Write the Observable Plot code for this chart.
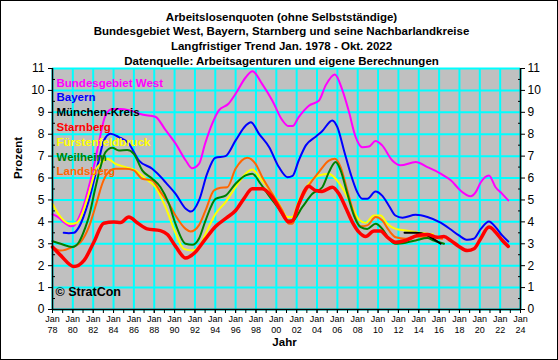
<!DOCTYPE html>
<html><head><meta charset="utf-8">
<script src="https://cdn.jsdelivr.net/npm/d3@7"></script>
<script src="https://cdn.jsdelivr.net/npm/@observablehq/plot@0.6"></script>
<style>
body{margin:0;background:#fff;}
#chart svg{display:block;outline:1px solid #000;outline-offset:-1px;}
</style></head><body><div id="chart"></div>
<script>
const titleLines = [
  "Arbeitslosenquoten (ohne Selbstständige)",
  "Bundesgebiet West, Bayern, Starnberg und seine Nachbarlandkreise",
  "Langfristiger Trend Jan. 1978 - Okt. 2022",
  "Datenquelle: Arbeitsagenturen und eigene Berechnungen"
];
const seriesNames = ["Bundesgebiet West","Bayern","München-Kreis","Starnberg","Fürstenfeldbruck","Weilheim","Landsberg"];
const seriesColors = ["#ff00ff","#0000ff","#000000","#ff0000","#ffff00","#008000","#ff6600"];

const west = [[1978.0,4.35],[1978.6,4.2],[1979.2,3.95],[1979.8,3.8],[1980.1,3.82],[1980.6,4.2],[1981.1,4.8],[1981.57,5.6],[1982.1,6.6],[1982.55,7.6],[1983.2,8.85],[1983.87,9.15],[1984.7,9.15],[1985.5,9.1],[1986.8,8.9],[1988.1,8.8],[1989.1,8.2],[1990.1,7.57],[1991.1,6.8],[1991.7,6.45],[1992.4,6.65],[1993.0,7.57],[1993.7,8.48],[1994.35,9.09],[1995.3,9.39],[1996.0,9.85],[1997.0,10.6],[1997.65,10.88],[1998.6,10.3],[1999.6,9.54],[2000.6,8.63],[2001.2,8.37],[2001.6,8.37],[2002.2,8.78],[2003.2,9.3],[2004.2,9.54],[2004.85,10.23],[2005.75,10.73],[2006.5,10.0],[2007.1,9.09],[2007.8,7.87],[2008.45,7.41],[2009.1,7.44],[2009.75,7.69],[2010.4,7.49],[2011.4,6.8],[2012.2,6.58],[2013.7,6.73],[2014.85,6.5],[2016.15,6.2],[2017.15,5.9],[2018.1,5.43],[2019.1,5.17],[2019.6,5.36],[2020.1,5.81],[2020.9,6.12],[2021.55,5.58],[2022.2,5.28],[2022.8,4.98]];
const bayern = [[1979.1,3.5],[1979.6,3.48],[1980.1,3.5],[1980.6,3.76],[1981.57,4.98],[1982.55,6.8],[1983.04,7.7],[1983.7,8.02],[1984.52,7.87],[1985.5,7.57],[1986.5,6.8],[1987.8,6.42],[1988.8,5.97],[1989.1,5.81],[1990.1,5.28],[1991.1,4.6],[1991.6,4.47],[1992.4,4.98],[1993.2,6.2],[1994.0,6.93],[1995.0,7.0],[1996.0,7.72],[1997.0,8.4],[1997.5,8.55],[1998.3,8.02],[1999.3,7.41],[2000.25,6.5],[2001.1,6.04],[2001.6,6.1],[2002.2,6.8],[2002.9,7.49],[2003.9,7.9],[2004.5,8.14],[2005.5,8.63],[2006.0,8.32],[2006.65,7.26],[2007.3,6.2],[2007.95,5.36],[2008.45,5.05],[2008.95,5.05],[2009.75,5.39],[2010.4,5.2],[2011.05,4.75],[2011.7,4.29],[2012.4,4.19],[2013.7,4.32],[2014.85,4.22],[2016.15,3.96],[2017.15,3.65],[2017.95,3.38],[2018.8,3.18],[2019.4,3.23],[2020.1,3.68],[2020.9,4.02],[2021.55,3.76],[2022.2,3.38],[2022.8,3.1]];
const muenchen = [[2012.6,3.5],[2013.7,3.5],[2014.8,3.4],[2015.5,3.2],[2016.15,3.0]];
const starnberg = [[1978.0,2.85],[1978.8,2.47],[1980.1,1.96],[1981.1,2.24],[1982.06,3.07],[1983.04,3.94],[1984.03,3.99],[1984.69,3.97],[1985.5,4.22],[1986.33,3.96],[1987.3,3.68],[1988.6,3.6],[1989.3,3.42],[1990.1,2.88],[1991.08,2.35],[1992.0,2.6],[1993.0,3.2],[1994.0,3.78],[1995.1,4.18],[1996.0,4.52],[1996.8,5.05],[1997.64,5.51],[1998.62,5.51],[1999.6,5.13],[2000.6,4.37],[2001.2,4.0],[2001.6,4.05],[2002.22,4.83],[2003.2,5.62],[2003.86,5.43],[2004.5,5.39],[2005.5,5.58],[2006.15,5.28],[2006.8,4.67],[2007.47,3.99],[2008.12,3.53],[2008.78,3.33],[2009.6,3.58],[2010.25,3.58],[2010.9,3.3],[2011.73,3.07],[2012.7,3.15],[2013.86,3.38],[2014.84,3.42],[2015.83,3.3],[2016.48,3.33],[2017.14,3.15],[2017.95,2.88],[2018.78,2.69],[2019.43,2.77],[2020.08,3.23],[2020.9,3.76],[2021.56,3.53],[2022.22,3.15],[2022.8,2.88]];
const fuerstenfeldbruck = [[1978.0,4.83],[1978.8,4.22],[1979.77,3.91],[1980.26,3.94],[1980.6,4.06],[1981.57,5.28],[1982.23,6.35],[1982.89,6.73],[1983.38,6.88],[1984.19,6.65],[1985.18,6.5],[1986.16,6.35],[1987.14,5.97],[1988.13,5.58],[1989.11,4.67],[1990.09,3.5],[1990.91,2.77],[1991.74,2.69],[1992.39,2.85],[1993.04,3.45],[1994.03,4.37],[1995.01,4.9],[1995.99,5.58],[1996.98,6.2],[1997.64,6.39],[1998.45,5.97],[1999.27,5.51],[2000.25,4.83],[2001.08,4.22],[2001.57,4.22],[2002.22,4.98],[2003.2,5.74],[2004.18,6.12],[2005.17,6.2],[2005.83,5.97],[2006.64,5.43],[2007.47,4.67],[2008.12,4.1],[2008.78,3.96],[2009.59,4.29],[2010.25,4.29],[2010.91,3.91],[2011.73,3.68],[2012.71,3.61],[2013.69,3.53],[2015.0,3.45],[2015.4,3.43]];
const weilheim = [[1978.0,3.12],[1978.8,3.0],[1979.94,2.85],[1980.59,3.07],[1981.24,3.76],[1981.57,4.22],[1982.23,5.58],[1982.72,6.5],[1983.21,7.18],[1983.87,7.38],[1984.52,7.26],[1985.35,7.28],[1985.99,7.11],[1986.82,6.35],[1987.8,5.97],[1988.62,5.58],[1989.44,4.83],[1990.09,3.91],[1991.08,3.0],[1991.74,2.95],[1992.39,3.23],[1993.04,4.06],[1994.03,5.05],[1995.01,5.2],[1995.99,5.74],[1996.98,6.12],[1997.64,6.2],[1998.45,5.74],[1999.27,5.2],[2000.25,4.6],[2001.08,4.06],[2001.57,4.06],[2002.55,4.67],[2003.54,5.28],[2004.52,5.58],[2005.17,6.27],[2005.83,6.73],[2006.32,6.35],[2006.98,5.28],[2007.63,4.29],[2008.29,3.76],[2008.94,3.68],[2009.76,3.91],[2010.42,3.68],[2011.07,3.23],[2011.73,3.0],[2012.71,3.05],[2013.69,3.15],[2014.84,3.26],[2015.49,3.15],[2016.48,3.0]];
const landsberg = [[1978.0,2.85],[1978.8,2.69],[1979.94,2.85],[1980.75,3.07],[1981.57,3.76],[1982.4,4.98],[1982.89,5.74],[1983.38,6.2],[1984.19,6.42],[1985.18,6.42],[1985.99,6.35],[1986.82,5.97],[1987.8,5.89],[1988.62,5.36],[1989.44,4.83],[1990.09,4.29],[1991.08,3.68],[1991.57,3.56],[1992.39,3.84],[1993.04,4.52],[1993.86,5.43],[1994.52,5.56],[1995.18,5.58],[1995.99,6.42],[1997.14,6.93],[1997.96,6.65],[1998.62,6.04],[1999.6,5.28],[2000.59,4.52],[2001.24,3.91],[2001.57,3.91],[2002.22,4.75],[2003.2,5.66],[2004.18,6.27],[2005.17,6.8],[2005.76,6.88],[2006.32,6.5],[2006.98,5.43],[2007.63,4.37],[2008.29,3.8],[2008.94,3.84],[2009.76,4.22],[2010.42,4.06],[2011.07,3.61],[2011.73,3.3],[2012.71,3.23],[2013.69,3.33],[2015.0,3.3],[2016.3,3.23]];

const yTicks = d3.range(0, 12, 1);
const yHalf = d3.range(0.5, 11, 1);
const xMajor = d3.range(1978, 2025, 2);
const xMinor = d3.range(1978, 2025, 1);

const seriesData = [west, bayern, muenchen, starnberg, fuerstenfeldbruck, weilheim, landsberg];
const drawOrder = [0, 1, 4, 6, 5, 2, 3];
const widths = [2, 2, 2, 3.5, 2, 2, 2];

const lineMarks = drawOrder.map(i => Plot.line(seriesData[i], {
  x: d => d[0], y: d => d[1], stroke: seriesColors[i], strokeWidth: widths[i], curve: "monotone-x"
}));

const legendMarks = seriesNames.map((name, i) => Plot.text([name], {
  text: d => d, frameAnchor: "top-left", dx: 4, dy: 10 + i * 14.8, fill: seriesColors[i],
  fontWeight: "bold", fontSize: 11.5, textAnchor: "start"
}));

const chart = Plot.plot({
  width: 558, height: 360,
  marginLeft: 52, marginRight: 38, marginTop: 68, marginBottom: 51,
  style: {fontFamily: "'Liberation Sans', Arial, sans-serif", fontSize: "11px", background: "#fff", overflow: "visible", color: "#000"},
  x: {domain: [1978, 2024]},
  y: {domain: [0, 11]},
  marks: [
    Plot.frame({fill: "#c0c0c0", stroke: null}),
    Plot.gridX({ticks: xMajor, stroke: "#00ffff", strokeOpacity: 1, strokeWidth: 2}),
    Plot.gridY({ticks: yTicks, stroke: "#00ffff", strokeOpacity: 1, strokeWidth: 2}),
    ...lineMarks,
    ...legendMarks,
    Plot.text(["© StratCon"], {text: d => d, frameAnchor: "bottom-left", dx: 3, dy: -14, fontWeight: "bold", fontSize: 12.5, textAnchor: "start", fill: "#000"}),
    Plot.ruleX([1978, 2024], {stroke: "#000", strokeWidth: 1.5}),
    Plot.ruleY([0], {stroke: "#000", strokeWidth: 1.5}),
    Plot.axisY({anchor: "left", ticks: yTicks, tickSize: 4, tickPadding: 4, fontSize: 12, label: null}),
    Plot.axisY({anchor: "right", ticks: yTicks, tickSize: 4, tickPadding: 3, fontSize: 12, label: null}),
    Plot.axisY({anchor: "left", ticks: yHalf, tickSize: -3, tickFormat: () => "", label: null}),
    Plot.axisY({anchor: "right", ticks: yHalf, tickSize: -3, tickFormat: () => "", label: null}),
    Plot.axisX({anchor: "bottom", ticks: xMinor, tickSize: 4, tickFormat: () => "", label: null}),
    Plot.axisX({anchor: "bottom", ticks: xMajor, tickSize: 4, tickPadding: 1, fontSize: 9, lineHeight: 1.2,
      tickFormat: d => "Jan\n" + String(d % 100).padStart(2, "0"), label: null}),
    Plot.text([titleLines.join("\n")], {text: d => d, frameAnchor: "top", dx: -5, dy: -4, lineAnchor: "bottom",
      lineHeight: 1.27, fontWeight: "bold", fontSize: 11.5, fill: "#000"}),
    Plot.text(["Jahr"], {text: d => d, frameAnchor: "bottom", dx: -2, dy: 36, fontWeight: "bold", fontSize: 11.5, fill: "#000"}),
    Plot.text(["Prozent"], {text: d => d, frameAnchor: "left", dx: -34, dy: -10, rotate: -90, fontWeight: "bold", fontSize: 11.5, fill: "#000"})
  ]
});
document.getElementById("chart").append(chart);
</script></body></html>
